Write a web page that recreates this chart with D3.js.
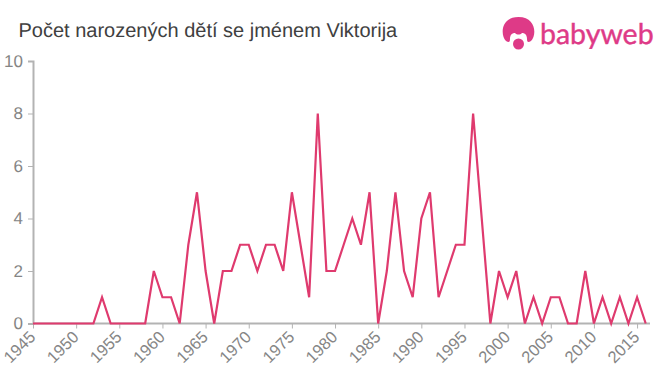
<!DOCTYPE html>
<html>
<head>
<meta charset="utf-8">
<script src="https://cdn.jsdelivr.net/npm/d3@7"></script>
<style>
  html, body { margin: 0; padding: 0; background: #fff; }
  svg { display: block; }
  text { font-family: "Liberation Sans", Arial, sans-serif; text-rendering: geometricPrecision; }
</style>
</head>
<body>
<script>
// Values, one per year from 1945 to 2016
const firstYear = 1945;
const births = [
  0, 0, 0, 0, 0, 0, 0, 0, 1, 0,
  0, 0, 0, 0, 2, 1, 1, 0, 3, 5,
  2, 0, 2, 2, 3, 3, 2, 3, 3, 2,
  5, 3, 1, 8, 2, 2, 3, 4, 3, 5,
  0, 2, 5, 2, 1, 4, 5, 1, 2, 3,
  3, 8, 4, 0, 2, 1, 2, 0, 1, 0,
  1, 1, 0, 0, 2, 0, 1, 0, 1, 0,
  1, 0
];
const years = births.map((d, i) => firstYear + i);
const xTicks = d3.range(1945, 2016, 5);
const yTicks = [0, 2, 4, 6, 8, 10];

const svg = d3.select("body").append("svg")
  .attr("width", 660)
  .attr("height", 375);

// Scales, the x axis runs a little past the last year
const x = d3.scaleLinear().domain([1945, 2016]).range([33, 645.7]);
const y = d3.scaleLinear().domain([0, 10]).range([323.5, 61]);

// Title
svg.append("text")
  .attr("x", 18.5)
  .attr("y", 37)
  .attr("font-size", 20)
  .attr("fill", "#404040")
  .text("Počet narozených dětí se jménem Viktorija");

// Left axis
const yAxis = svg.append("g")
  .attr("transform", `translate(${x(1945)},0)`)
  .call(d3.axisLeft(y).tickValues(yTicks).tickSize(5).tickPadding(5));
yAxis.selectAll("path, line").attr("stroke", "#b3b3b3");
yAxis.select("path").attr("stroke-width", 2);
yAxis.selectAll("text")
  .attr("font-size", 17)
  .attr("fill", "#858585")
  .style("font-family", "'Liberation Sans', Arial, sans-serif");

// Bottom axis
const xAxis = svg.append("g")
  .attr("transform", `translate(0,${y(0)})`)
  .call(d3.axisBottom(x).tickValues(xTicks).tickFormat(d3.format("d")).tickSize(5).tickSizeOuter(0));
xAxis.select("path")
  .attr("d", `M${x(1945)},0H650`)
  .attr("stroke", "#b3b3b3")
  .attr("stroke-width", 2);
xAxis.selectAll("line").attr("stroke", "#b3b3b3").attr("stroke-width", 1);
xAxis.selectAll("text")
  .attr("font-size", 16.5)
  .attr("fill", "#858585")
  .attr("text-anchor", "end")
  .attr("dx", 0)
  .attr("dy", 0)
  .attr("y", 0)
  .attr("transform", "translate(3,14.5) rotate(-45)")
  .style("font-family", "'Liberation Sans', Arial, sans-serif");

// Line
const line = d3.line()
  .x((d, i) => x(years[i]))
  .y(d => y(d));

svg.append("path")
  .datum(births)
  .attr("d", line)
  .attr("fill", "none")
  .attr("stroke", "#df3a6e")
  .attr("stroke-width", 2.2)
  .attr("stroke-linejoin", "miter");

// Logo
const logo = svg.append("g").attr("fill", "#de3a87");
logo.append("path")
  .attr("d", "M506,41 C500,35 501,17 518.5,17 C536,17 537,35 531,41 C528,43 527,42 527,39 C527,35 525,33 522,33 C520,35 517,35 515,33 C512,33 510,35 510,39 C510,42 509,43 506,41 Z");
logo.append("circle").attr("cx", 518.5).attr("cy", 44).attr("r", 5.5);
logo.append("text")
  .attr("x", 540)
  .attr("y", 44)
  .attr("font-size", 28.5)
  .attr("fill", "#de3a87")
  .attr("stroke", "#de3a87")
  .attr("stroke-width", 0.4)
  .style("font-family", "Lato, sans-serif")
  .text("babyweb");
</script>
</body>
</html>
